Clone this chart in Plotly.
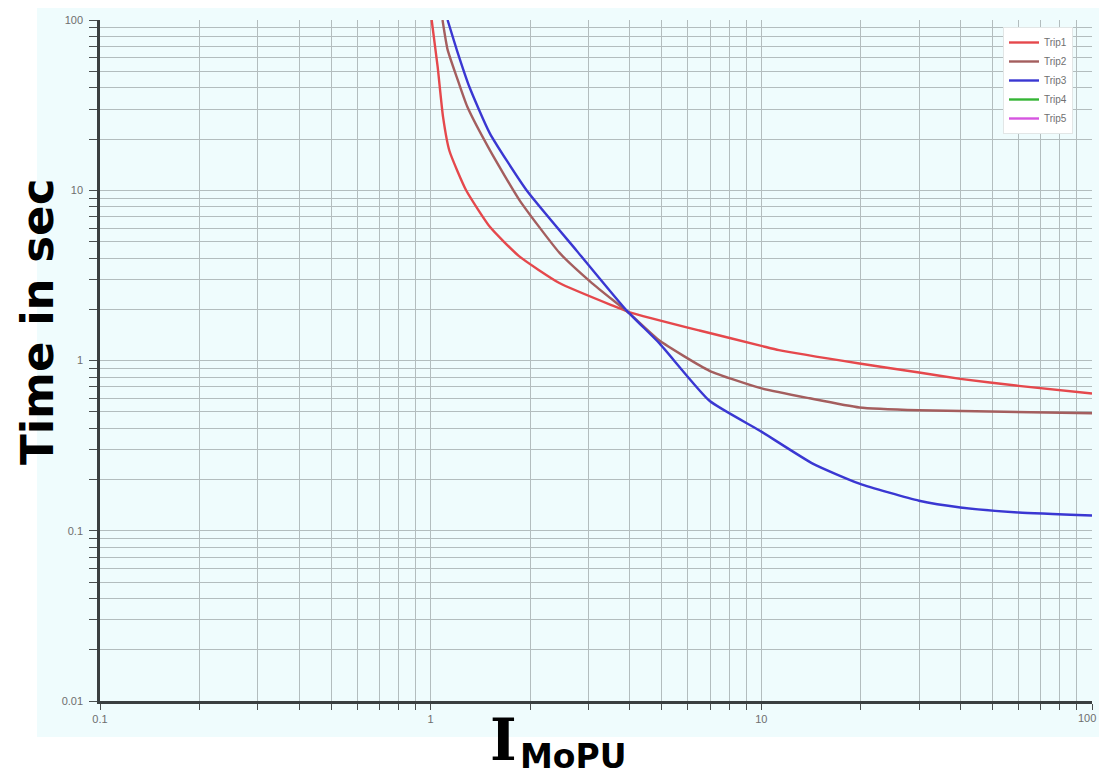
import plotly.graph_objects as go

# Relay trip characteristics: current multiple (per unit) vs. operating time (s)
trip1_current = [1.007, 1.05, 1.09, 1.14, 1.28, 1.51, 1.85, 2.45, 3.55, 4.0, 6.5, 10, 11.3, 19.8, 30, 40, 60, 100]
trip1_time = [100, 53, 27, 17, 10, 6.1, 4.1, 2.85, 2.1, 1.92, 1.5, 1.22, 1.15, 0.96, 0.85, 0.78, 0.71, 0.64]

trip2_current = [1.086, 1.125, 1.2, 1.29, 1.51, 1.86, 2.45, 3.08, 3.99, 4.92, 6.97, 9.9, 14, 19.8, 30, 100]
trip2_time = [100, 67, 46, 31, 17.2, 8.7, 4.3, 2.84, 1.89, 1.31, 0.87, 0.69, 0.60, 0.53, 0.51, 0.49]

trip3_current = [1.125, 1.2, 1.31, 1.51, 1.95, 2.76, 3.91, 4.92, 6.97, 9.9, 14.3, 19.8, 30, 40, 60, 100]
trip3_time = [100, 66.6, 40.4, 21.6, 10, 4.43, 1.97, 1.26, 0.58, 0.387, 0.248, 0.189, 0.150, 0.137, 0.128, 0.123]

trip4_current = []
trip4_time = []
trip5_current = []
trip5_time = []

series_names = ["Trip1", "Trip2", "Trip3", "Trip4", "Trip5"]
series_colors = ["#e5484c", "#a45e5e", "#3a37d2", "#35b535", "#d655e0"]

# Log-scale tick positions (1..9 per decade) with labels on decades only
x_tick_vals = [m * 10.0 ** k for k in (-1, 0, 1) for m in range(1, 10)] + [100]
x_tick_text = [("0.1", "1", "10")[i // 9] if i % 9 == 0 else "" for i in range(27)] + [""]
y_tick_vals = [m * 10.0 ** k for k in (-2, -1, 0, 1) for m in range(1, 10)] + [100]
y_tick_text = [("0.01", "0.1", "1", "10")[i // 9] if i % 9 == 0 else "" for i in range(36)] + ["100"]

fig = go.Figure()
xs = [trip1_current, trip2_current, trip3_current, trip4_current, trip5_current]
ys = [trip1_time, trip2_time, trip3_time, trip4_time, trip5_time]
for name, color, x, y in zip(series_names, series_colors, xs, ys):
    fig.add_trace(go.Scatter(
        x=x if x else [None], y=y if y else [None], name=name, mode="lines",
        line=dict(color=color, width=2.4, shape="spline", smoothing=0.5),
        showlegend=True,
    ))

W, H = 1099, 778
L, R, T, B = 100, 7, 20, 77
pw, ph = W - L - R, H - T - B


def px_x(p):
    return (p - L) / pw


def px_y(p):
    return (H - B - p) / ph


tick_font = dict(family="Liberation Sans", size=11, color="#6e6e6e")

axis_common = dict(
    type="log",
    showline=True, linecolor="#3a3f40", linewidth=2.5, mirror=False,
    showgrid=True, gridcolor="#b3bdbe", gridwidth=1.3,
    ticks="outside", tickcolor="#4a4f50", tickwidth=1.4,
    tickfont=tick_font,
    zeroline=False, tickmode="array",
)

fig.update_xaxes(range=[-1, 2], tickvals=x_tick_vals, ticktext=x_tick_text,
                 ticklen=6, **axis_common)
fig.update_yaxes(range=[-2, 2], tickvals=y_tick_vals, ticktext=y_tick_text,
                 ticklen=8, ticklabelstandoff=4, **axis_common)

fig.add_shape(type="rect", xref="paper", yref="paper",
              x0=px_x(37), x1=px_x(W + 5), y0=px_y(737), y1=px_y(8),
              fillcolor="#effcfd", line=dict(width=0), layer="below")

# label for the right end of the current axis
fig.add_annotation(text="100", xref="paper", yref="paper",
                   x=px_x(1098), y=px_y(718), showarrow=False,
                   xanchor="right", yanchor="middle", font=tick_font)

fig.add_annotation(text="<b>Time in sec</b>", xref="paper", yref="paper",
                   x=px_x(37), y=px_y(322), textangle=-90, showarrow=False,
                   xanchor="center", yanchor="middle",
                   font=dict(family="DejaVu Sans", size=45, color="#000000"))
fig.add_annotation(text="<b>I</b>", xref="paper", yref="paper",
                   x=px_x(503), y=px_y(739), showarrow=False,
                   xanchor="center", yanchor="middle",
                   font=dict(family="DejaVu Serif", size=57, color="#000000"))
fig.add_annotation(text="<b>MoPU</b>", xref="paper", yref="paper",
                   x=px_x(573), y=px_y(756), showarrow=False,
                   xanchor="center", yanchor="middle",
                   font=dict(family="DejaVu Sans", size=33, color="#000000"))

fig.update_layout(
    width=W, height=H,
    margin=dict(l=L, r=R, t=T, b=B, pad=0),
    paper_bgcolor="#ffffff", plot_bgcolor="rgba(0,0,0,0)",
    showlegend=True,
    legend=dict(x=px_x(1003), y=px_y(27), xanchor="left", yanchor="top",
                bgcolor="#ffffff", bordercolor="#e2e6e6", borderwidth=1,
                font=dict(family="Liberation Sans", size=10, color="#707070"),
                tracegroupgap=0, itemwidth=30),
)

fig.write_html("out.html")
